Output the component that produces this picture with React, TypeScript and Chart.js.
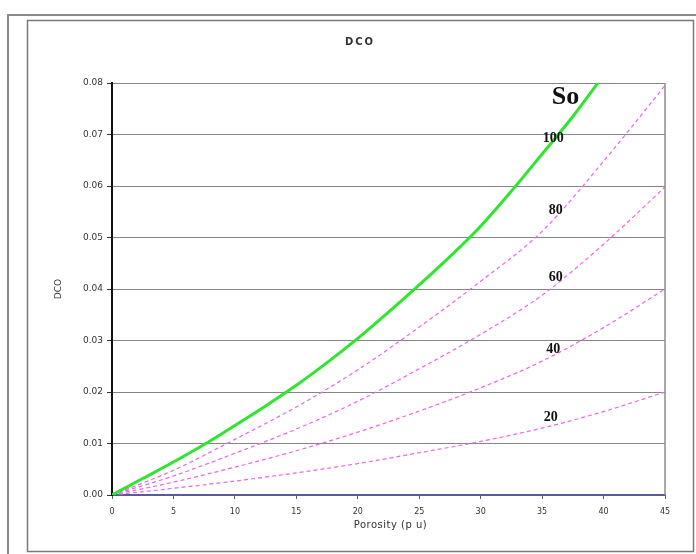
import React, { useEffect, useRef } from "react";
import { Chart, registerables } from "chart.js";

Chart.register(...registerables);

// Porosity (p.u.) sample points
const porosity = [0, 5, 10, 15, 20, 25, 30, 35, 40, 45];
const porosityGreen = [0, 2.5, 5, 7.5, 10, 12.5, 15, 17.5, 20, 22.5, 25, 27.5, 30, 32.5, 35, 37.5, 40];

// DCO values per oil saturation curve
const so100 = [0, 0.0032, 0.0064, 0.0098, 0.0135, 0.0173, 0.0213, 0.0257, 0.0304, 0.0355, 0.0408, 0.0463, 0.0522, 0.059, 0.0662, 0.0735, 0.0815];
const so80 = [0, 0.0048, 0.0108, 0.0171, 0.0243, 0.0326, 0.0415, 0.0512, 0.0648, 0.0795];
const so60 = [0, 0.0037, 0.0081, 0.0128, 0.0182, 0.0245, 0.0312, 0.0388, 0.0487, 0.0598];
const so40 = [0, 0.0025, 0.0054, 0.0086, 0.0122, 0.0163, 0.0208, 0.026, 0.0325, 0.04];
const so20 = [0, 0.0013, 0.0027, 0.0043, 0.0061, 0.0082, 0.0104, 0.013, 0.0162, 0.02];

// Curve annotations (text, x in p.u., y in DCO)
const curveLabels = ["So", "100", "80", "60", "40", "20"];
const curveLabelX = [36.9, 35.9, 36.1, 36.1, 35.9, 35.7];
const curveLabelY = [0.0773, 0.0693, 0.0553, 0.0423, 0.0282, 0.0151];

const chartTitle = "DCO";
const xTitle = "Porosity (p u)";
const yTitle = "DCO";

const toPoints = (xs: number[], ys: number[]) => xs.map((x, i) => ({ x, y: ys[i] }));

const decorPlugin = {
  id: "decor",
  beforeDraw(chart: any) {
    const ctx = chart.ctx;
    ctx.save();
    ctx.fillStyle = "#ffffff";
    ctx.fillRect(0, 0, chart.width, chart.height);
    ctx.strokeStyle = "#8a8a8a";
    ctx.lineWidth = 2;
    ctx.beginPath();
    ctx.moveTo(8, 560);
    ctx.lineTo(8, 15);
    ctx.lineTo(700, 15);
    ctx.stroke();
    ctx.strokeStyle = "#7a7a7a";
    ctx.lineWidth = 1.5;
    ctx.strokeRect(27.5, 20.5, 666, 531);
    ctx.restore();
  },
  afterDraw(chart: any) {
    const ctx = chart.ctx;
    const { left, right, top, bottom } = chart.chartArea;
    const xs = chart.scales.x;
    const ys = chart.scales.y;
    ctx.save();
    ctx.strokeStyle = "#8c8c8c";
    ctx.lineWidth = 1.5;
    ctx.beginPath();
    ctx.moveTo(right, top);
    ctx.lineTo(right, bottom);
    ctx.stroke();

    ctx.fillStyle = "#111111";
    ctx.textAlign = "center";
    ctx.textBaseline = "middle";
    curveLabels.forEach((t, i) => {
      ctx.font = i === 0 ? "bold 26px 'Liberation Serif'" : "bold 14px 'Liberation Serif'";
      ctx.fillText(t, xs.getPixelForValue(curveLabelX[i]), ys.getPixelForValue(curveLabelY[i]));
    });

    ctx.fillStyle = "#333333";
    (ctx as any).letterSpacing = "2px";
    ctx.font = "bold 10px 'DejaVu Sans'";
    ctx.fillText(chartTitle, 360, 42);

    (ctx as any).letterSpacing = "0.5px";
    ctx.font = "10px 'DejaVu Sans'";
    ctx.fillText(xTitle, (left + right) / 2 + 2, 525);

    (ctx as any).letterSpacing = "0px";
    ctx.font = "9px 'DejaVu Sans'";
    ctx.translate(59, (top + bottom) / 2);
    ctx.rotate(-Math.PI / 2);
    ctx.fillText(yTitle, 0, 0);
    ctx.restore();
  },
};

export default function App() {
  const ref = useRef<HTMLCanvasElement | null>(null);

  useEffect(() => {
    if (!ref.current) return;
    const dashed = (label: string, ys: number[]) => ({
      label,
      data: toPoints(porosity, ys),
      borderColor: "#e866e8",
      borderWidth: 1.2,
      borderDash: [4, 3],
      pointRadius: 0,
      fill: false,
      cubicInterpolationMode: "monotone" as const,
    });
    const chart = new Chart(ref.current, {
      type: "line",
      data: {
        datasets: [
          {
            label: "100",
            data: toPoints(porosityGreen, so100),
            borderColor: "#2ee62e",
            borderWidth: 3,
            pointRadius: 0,
            fill: false,
            cubicInterpolationMode: "monotone",
          },
          dashed("80", so80),
          dashed("60", so60),
          dashed("40", so40),
          dashed("20", so20),
        ],
      },
      options: {
        responsive: false,
        maintainAspectRatio: false,
        animation: false,
        devicePixelRatio: 1,
        layout: { padding: { left: 0, top: 83, right: 31, bottom: 0 } },
        plugins: {
          legend: { display: false },
          title: { display: false },
          tooltip: { enabled: false },
        },
        scales: {
          x: {
            type: "linear",
            min: 0,
            max: 45,
            afterFit: (s: any) => {
              s.height = 59;
            },
            ticks: {
              stepSize: 5,
              padding: 8,
              color: "#333333",
              font: { family: "'DejaVu Sans'", size: 8 },
              maxRotation: 0,
            },
            grid: {
              drawOnChartArea: false,
              drawTicks: true,
              tickLength: 4,
              tickColor: "#55558f",
            },
            border: { display: true, color: "#5a5a9a", width: 2 },
          },
          y: {
            type: "linear",
            min: 0,
            max: 0.08,
            afterFit: (s: any) => {
              s.width = 112;
            },
            ticks: {
              stepSize: 0.01,
              padding: 4,
              color: "#333333",
              font: { family: "'DejaVu Sans'", size: 9 },
              callback: (v: any) => Number(v).toFixed(2),
            },
            grid: {
              color: "#858585",
              lineWidth: 1,
              tickLength: 5,
              tickColor: "#333333",
            },
            border: { display: true, color: "#111111", width: 2 },
          },
        },
      },
      plugins: [decorPlugin],
    });
    return () => chart.destroy();
  }, []);

  return (
    <div style={{ position: "absolute", left: 0, top: 0, width: 696, height: 554 }}>
      <canvas ref={ref} width={696} height={554} style={{ display: "block", width: 696, height: 554 }} />
    </div>
  );
}
